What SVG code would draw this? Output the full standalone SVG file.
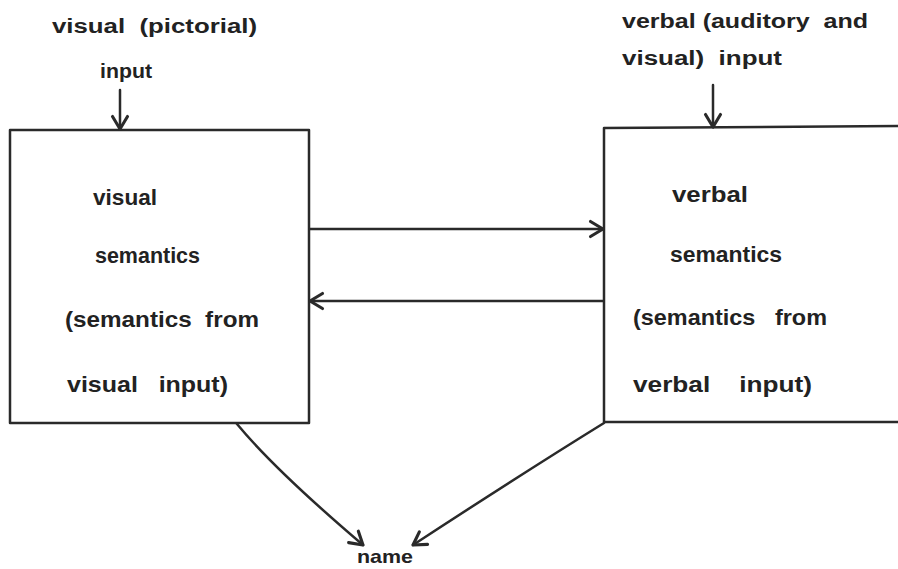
<svg xmlns="http://www.w3.org/2000/svg" width="898" height="569" viewBox="0 0 898 569" xml:space="preserve">
<defs>
<style>
.t{font-family:"Liberation Sans",Arial,sans-serif;font-weight:bold;fill:#222;white-space:pre;}
.h{font-size:20px;}
.b{font-size:22px;}
.ln{stroke:#2a2a2a;stroke-width:2.5;fill:none;stroke-linecap:round;stroke-linejoin:round;}
</style>
<marker id="ah" markerUnits="userSpaceOnUse" markerWidth="20" markerHeight="20" viewBox="-12 -8 14 16" refX="0" refY="0" orient="auto">
<path d="M-10,-6 L0,0 L-10,6" fill="none" stroke="#2a2a2a" stroke-width="2.5" stroke-linecap="round" stroke-linejoin="round"/>
</marker>
</defs>
<rect width="898" height="569" fill="#ffffff"/>
<g id="visual-input">
<text class="t h" x="52" y="33" textLength="205" lengthAdjust="spacingAndGlyphs">visual  (pictorial)</text>
<text class="t h" x="100" y="78" textLength="52" lengthAdjust="spacingAndGlyphs">input</text>
</g>
<g id="verbal-input">
<text class="t h" x="622" y="28" textLength="246" lengthAdjust="spacingAndGlyphs">verbal (auditory  and</text>
<text class="t h" x="622" y="65" textLength="160" lengthAdjust="spacingAndGlyphs">visual)  input</text>
</g>
<g id="visual-semantics">
<path class="ln" d="M10,130 L309,130 L309,423 L10,423 Z"/>
<text class="t b" x="93" y="205" textLength="64" lengthAdjust="spacingAndGlyphs">visual</text>
<text class="t b" x="95" y="263" textLength="105" lengthAdjust="spacingAndGlyphs">semantics</text>
<text class="t b" x="65" y="327" textLength="194" lengthAdjust="spacingAndGlyphs">(semantics  from</text>
<text class="t b" x="67" y="392" textLength="161" lengthAdjust="spacingAndGlyphs">visual   input)</text>
</g>
<g id="verbal-semantics">
<path class="ln" d="M898,126 L604,128 L604,422 L898,422"/>
<text class="t b" x="672" y="202" textLength="76" lengthAdjust="spacingAndGlyphs">verbal</text>
<text class="t b" x="670" y="262" textLength="112" lengthAdjust="spacingAndGlyphs">semantics</text>
<text class="t b" x="633" y="325" textLength="194" lengthAdjust="spacingAndGlyphs">(semantics   from</text>
<text class="t b" x="633" y="392" textLength="179" lengthAdjust="spacingAndGlyphs">verbal    input)</text>
</g>
<g id="name">
<text class="t" font-size="19" x="357" y="563" textLength="56" lengthAdjust="spacingAndGlyphs">name</text>
</g>
<g id="connectors">
<path class="ln" d="M120,90 L120,129" marker-end="url(#ah)"/>
<path class="ln" d="M713,85 L713,127" marker-end="url(#ah)"/>
<path class="ln" d="M310,229 L603,229" marker-end="url(#ah)"/>
<path class="ln" d="M603,301 L310,301" marker-end="url(#ah)"/>
<path class="ln" d="M237,424 Q275,470 363,545" marker-end="url(#ah)"/>
<path class="ln" d="M604,423 Q520,475 413,545" marker-end="url(#ah)"/>
</g>
</svg>
